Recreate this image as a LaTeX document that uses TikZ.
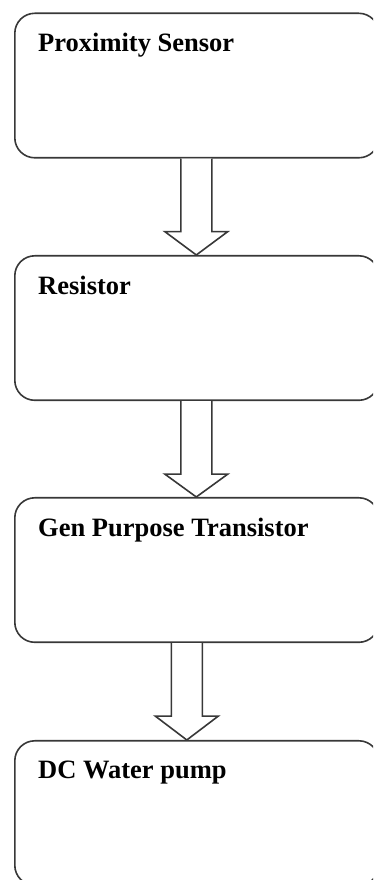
\documentclass[tikz,border=0pt]{standalone}
\usepackage{fontspec}
\setmainfont{Liberation Serif}
\usetikzlibrary{calc}
\tikzset{
  blockbox/.style={draw=black!78, line width=1.6pt, rounded corners=20pt, rectangle, inner sep=0pt,
    minimum width=364pt, minimum height=144.5pt, anchor=north west},
  label text/.style={anchor=base west, inner sep=0pt, font=\fontsize{26.5}{30}\selectfont\bfseries, text=black},
  blockarrow/.style={draw=black!78, line width=1.6pt, fill=white, line join=miter}
}
\newcommand{\hollowarrow}[2]{%
  \draw[blockarrow] ($#1+(-15.5,0)$) -- ($#1+(-15.5,-73)$) -- ($#1+(-31.5,-73)$)
    -- ($#2$) -- ($#1+(31.5,-73)$) -- ($#1+(15.5,-73)$) -- ($#1+(15.5,0)$);
}
\begin{document}
\begin{tikzpicture}[x=1pt,y=1pt]
\useasboundingbox (0,0) rectangle (373,880);
\clip (0,0) rectangle (373,880);
\node[blockbox] (b1) at (14,867.5) {};
\node[blockbox] (b2) at (14,625) {};
\node[blockbox] (b3) at (14,383) {};
\node[blockbox] (b4) at (14,140) {};
\node[label text] (t1) at (38,828) {Proximity Sensor};
\node[label text] (t2) at (38,585) {Resistor};
\node[label text] (t3) at (38,343) {Gen Purpose Transistor};
\node[label text] (t4) at (38,101) {DC Water pump};
\coordinate (a1) at ($(b1.south)+(-0.5,0)$);
\coordinate (a2) at ($(b2.south)+(-0.5,0)$);
\coordinate (a3) at ($(b3.south)+(-10,0)$);
\hollowarrow{(a1)}{(a1|-b2.north)}
\hollowarrow{(a2)}{(a2|-b3.north)}
\hollowarrow{(a3)}{(a3|-b4.north)}
\end{tikzpicture}
\end{document}
